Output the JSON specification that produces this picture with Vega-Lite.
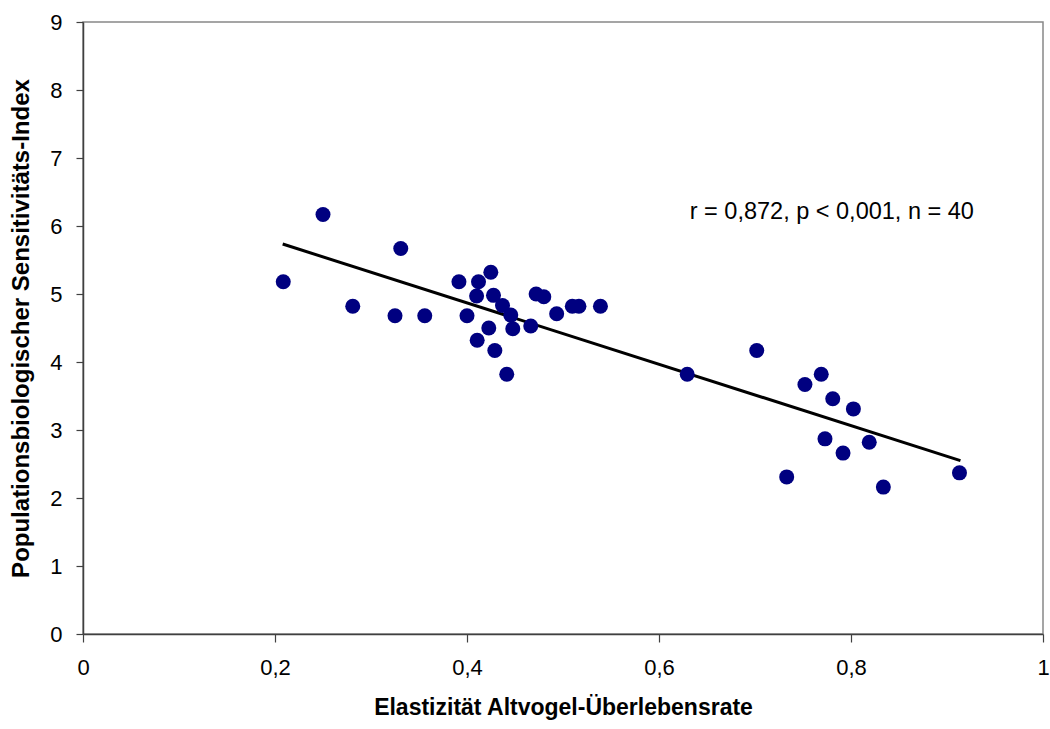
{
  "$schema": "https://vega.github.io/schema/vega-lite/v6.json",
  "width": 960,
  "height": 612,
  "autosize": {"type": "none"},
  "padding": {"left": 83, "top": 22, "right": 7, "bottom": 95},
  "background": "white",
  "config": {
    "font": "Liberation Sans",
    "view": {"stroke": "#888888", "strokeWidth": 1.5},
    "axis": {"grid": false, "labelFlush": false, "domainColor": "#404040", "tickColor": "#404040", "domainWidth": 1.5, "tickWidth": 1.2, "labelColor": "black", "titleColor": "black", "labelFont": "Liberation Sans", "titleFont": "Liberation Sans"}
  },
  "datasets": {
    "points": [
      {"elastizitaet": 0.2086, "index": 5.18},
      {"elastizitaet": 0.250, "index": 6.17},
      {"elastizitaet": 0.281, "index": 4.82},
      {"elastizitaet": 0.325, "index": 4.68},
      {"elastizitaet": 0.331, "index": 5.67},
      {"elastizitaet": 0.356, "index": 4.68},
      {"elastizitaet": 0.3916, "index": 5.18},
      {"elastizitaet": 0.400, "index": 4.68},
      {"elastizitaet": 0.410, "index": 4.97},
      {"elastizitaet": 0.4106, "index": 4.32},
      {"elastizitaet": 0.412, "index": 5.18},
      {"elastizitaet": 0.4227, "index": 4.50},
      {"elastizitaet": 0.4248, "index": 5.32},
      {"elastizitaet": 0.4276, "index": 4.98},
      {"elastizitaet": 0.429, "index": 4.17},
      {"elastizitaet": 0.437, "index": 4.83},
      {"elastizitaet": 0.4414, "index": 3.82},
      {"elastizitaet": 0.4456, "index": 4.69},
      {"elastizitaet": 0.4477, "index": 4.49},
      {"elastizitaet": 0.4664, "index": 4.53},
      {"elastizitaet": 0.472, "index": 5.00},
      {"elastizitaet": 0.480, "index": 4.96},
      {"elastizitaet": 0.4934, "index": 4.71},
      {"elastizitaet": 0.5097, "index": 4.82},
      {"elastizitaet": 0.5166, "index": 4.82},
      {"elastizitaet": 0.539, "index": 4.82},
      {"elastizitaet": 0.6294, "index": 3.82},
      {"elastizitaet": 0.7018, "index": 4.17},
      {"elastizitaet": 0.733, "index": 2.31},
      {"elastizitaet": 0.752, "index": 3.67},
      {"elastizitaet": 0.769, "index": 3.82},
      {"elastizitaet": 0.7729, "index": 2.87},
      {"elastizitaet": 0.781, "index": 3.46},
      {"elastizitaet": 0.7917, "index": 2.66},
      {"elastizitaet": 0.8025, "index": 3.31},
      {"elastizitaet": 0.819, "index": 2.82},
      {"elastizitaet": 0.8337, "index": 2.16},
      {"elastizitaet": 0.913, "index": 2.37}
    ],
    "fit": [
      {"elastizitaet": 0.208, "index": 5.735},
      {"elastizitaet": 0.914, "index": 2.55}
    ],
    "note": [
      {"label": "r = 0,872, p < 0,001, n = 40"}
    ]
  },
  "layer": [
    {
      "data": {"name": "fit"},
      "mark": {"type": "line", "color": "black", "strokeWidth": 3},
      "encoding": {
        "x": {"field": "elastizitaet", "type": "quantitative"},
        "y": {"field": "index", "type": "quantitative"}
      }
    },
    {
      "data": {"name": "points"},
      "mark": {"type": "circle", "color": "#000080", "opacity": 1, "size": 225},
      "encoding": {
        "x": {
          "field": "elastizitaet", "type": "quantitative",
          "scale": {"domain": [0, 1], "nice": false, "zero": false},
          "axis": {
            "values": [0, 0.2, 0.4, 0.6, 0.8, 1],
            "labelExpr": "replace(format(datum.value, '~g'), '.', ',')",
            "labelFontSize": 22, "labelPadding": 15, "tickSize": 8,
            "title": "Elastizität Altvogel-Überlebensrate",
            "titleFontSize": 23, "titleFontWeight": "bold", "titlePadding": 18
          }
        },
        "y": {
          "field": "index", "type": "quantitative",
          "scale": {"domain": [0, 9], "nice": false},
          "axis": {
            "values": [0, 1, 2, 3, 4, 5, 6, 7, 8, 9],
            "format": "d",
            "labelFontSize": 22, "labelPadding": 14, "tickSize": 7,
            "title": "Populationsbiologischer Sensitivitäts-Index",
            "titleFontSize": 24, "titleFontWeight": "bold", "titlePadding": 16
          }
        }
      }
    },
    {
      "data": {"name": "note"},
      "mark": {"type": "text", "align": "left", "baseline": "alphabetic", "fontSize": 23.5, "font": "Liberation Sans", "color": "black"},
      "encoding": {
        "text": {"field": "label", "type": "nominal"},
        "x": {"datum": 0.632},
        "y": {"datum": 6.10}
      }
    }
  ]
}
